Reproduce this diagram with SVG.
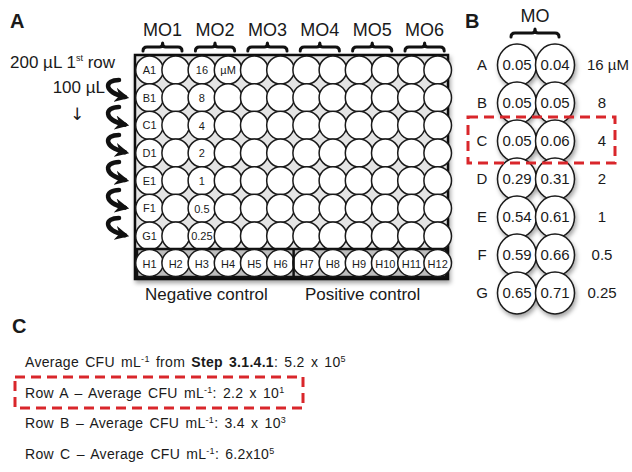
<svg xmlns="http://www.w3.org/2000/svg" width="632" height="472" viewBox="0 0 632 472">
<defs>
<style>
text{font-family:"Liberation Sans",Arial,sans-serif;fill:#1a1a1a}
.pl{font-weight:bold;font-size:20px}
.mo{font-size:18px}
.lbl{font-size:17px}
.w{fill:#fff;stroke:#1a1a1a;stroke-width:1.5}
.wl{font-size:11px;text-anchor:middle}
.wb{fill:#fff;stroke:#1a1a1a;stroke-width:1.5}
.bt{font-size:15px;text-anchor:middle}
.ct{font-size:14px;word-spacing:2px;letter-spacing:0.3px}
.br{fill:none;stroke:#111;stroke-width:3;stroke-linecap:round;stroke-linejoin:round}
.red{fill:none;stroke:#d9262b;stroke-width:3;stroke-dasharray:10 6}
.arr{fill:none;stroke:#111;stroke-width:4.5;stroke-linecap:round}
.sup{font-size:9px}
</style>
<filter id="sh" x="-10%" y="-10%" width="130%" height="130%">
<feDropShadow dx="1.5" dy="3" stdDeviation="2" flood-color="#000" flood-opacity="0.35"/>
</filter>
<marker id="ah" viewBox="0 0 10 10" refX="7" refY="5" markerWidth="3.2" markerHeight="3.2" orient="auto">
<path d="M0,0 L10,5 L0,10 L3,5 Z" fill="#111"/>
</marker>
</defs>

<g id="panelA">
<text class="pl" x="10" y="28">A</text>
<text class="lbl" x="10" y="68">200 µL 1<tspan class="sup" dy="-7" font-size="11">st</tspan><tspan dy="7"> row</tspan></text>
<text class="lbl" x="105" y="93" text-anchor="end">100 µL</text>
<text x="77" y="120" text-anchor="middle" style="font-family:'DejaVu Sans',sans-serif;font-size:17px">↓</text>

<g id="brackets">
<text class="mo" x="162.6" y="36" text-anchor="middle">MO1</text>
<text class="mo" x="215" y="36" text-anchor="middle">MO2</text>
<text class="mo" x="267.4" y="36" text-anchor="middle">MO3</text>
<text class="mo" x="319.8" y="36" text-anchor="middle">MO4</text>
<text class="mo" x="372.2" y="36" text-anchor="middle">MO5</text>
<text class="mo" x="424.6" y="36" text-anchor="middle">MO6</text>
<path class="br" d="M143 51 Q143 47 147 47 L159.6 47 Q162.6 47 162.6 43 Q162.6 47 165.6 47 L178 47 Q182 47 182 51"/>
<path class="br" d="M195.4 51 Q195.4 47 199.4 47 L212 47 Q215 47 215 43 Q215 47 218 47 L230.6 47 Q234.6 47 234.6 51"/>
<path class="br" d="M247.8 51 Q247.8 47 251.8 47 L264.4 47 Q267.4 47 267.4 43 Q267.4 47 270.4 47 L283 47 Q287 47 287 51"/>
<path class="br" d="M300.2 51 Q300.2 47 304.2 47 L316.8 47 Q319.8 47 319.8 43 Q319.8 47 322.8 47 L335.4 47 Q339.4 47 339.4 51"/>
<path class="br" d="M352.6 51 Q352.6 47 356.6 47 L369.2 47 Q372.2 47 372.2 43 Q372.2 47 375.2 47 L387.8 47 Q391.8 47 391.8 51"/>
<path class="br" d="M405 51 Q405 47 409 47 L421.6 47 Q424.6 47 424.6 43 Q424.6 47 427.6 47 L440.2 47 Q444.2 47 444.2 51"/>
</g>

<g id="plate">
<rect x="135" y="55" width="313" height="224" fill="#e4e4e4" stroke="#111" stroke-width="2.5" filter="url(#sh)"/>
<g id="wells">
<g id="rowA"><ellipse class="w" cx="149.5" cy="70" rx="13.8" ry="14"/><ellipse class="w" cx="175.7" cy="70" rx="13.8" ry="14"/><ellipse class="w" cx="201.9" cy="70" rx="13.8" ry="14"/><ellipse class="w" cx="228.1" cy="70" rx="13.8" ry="14"/><ellipse class="w" cx="254.3" cy="70" rx="13.8" ry="14"/><ellipse class="w" cx="280.5" cy="70" rx="13.8" ry="14"/><ellipse class="w" cx="306.7" cy="70" rx="13.8" ry="14"/><ellipse class="w" cx="332.9" cy="70" rx="13.8" ry="14"/><ellipse class="w" cx="359.1" cy="70" rx="13.8" ry="14"/><ellipse class="w" cx="385.3" cy="70" rx="13.8" ry="14"/><ellipse class="w" cx="411.5" cy="70" rx="13.8" ry="14"/><ellipse class="w" cx="437.7" cy="70" rx="13.8" ry="14"/></g>
<g id="rowB"><ellipse class="w" cx="149.5" cy="97.7" rx="13.8" ry="14"/><ellipse class="w" cx="175.7" cy="97.7" rx="13.8" ry="14"/><ellipse class="w" cx="201.9" cy="97.7" rx="13.8" ry="14"/><ellipse class="w" cx="228.1" cy="97.7" rx="13.8" ry="14"/><ellipse class="w" cx="254.3" cy="97.7" rx="13.8" ry="14"/><ellipse class="w" cx="280.5" cy="97.7" rx="13.8" ry="14"/><ellipse class="w" cx="306.7" cy="97.7" rx="13.8" ry="14"/><ellipse class="w" cx="332.9" cy="97.7" rx="13.8" ry="14"/><ellipse class="w" cx="359.1" cy="97.7" rx="13.8" ry="14"/><ellipse class="w" cx="385.3" cy="97.7" rx="13.8" ry="14"/><ellipse class="w" cx="411.5" cy="97.7" rx="13.8" ry="14"/><ellipse class="w" cx="437.7" cy="97.7" rx="13.8" ry="14"/></g>
<g id="rowC"><ellipse class="w" cx="149.5" cy="125.3" rx="13.8" ry="14"/><ellipse class="w" cx="175.7" cy="125.3" rx="13.8" ry="14"/><ellipse class="w" cx="201.9" cy="125.3" rx="13.8" ry="14"/><ellipse class="w" cx="228.1" cy="125.3" rx="13.8" ry="14"/><ellipse class="w" cx="254.3" cy="125.3" rx="13.8" ry="14"/><ellipse class="w" cx="280.5" cy="125.3" rx="13.8" ry="14"/><ellipse class="w" cx="306.7" cy="125.3" rx="13.8" ry="14"/><ellipse class="w" cx="332.9" cy="125.3" rx="13.8" ry="14"/><ellipse class="w" cx="359.1" cy="125.3" rx="13.8" ry="14"/><ellipse class="w" cx="385.3" cy="125.3" rx="13.8" ry="14"/><ellipse class="w" cx="411.5" cy="125.3" rx="13.8" ry="14"/><ellipse class="w" cx="437.7" cy="125.3" rx="13.8" ry="14"/></g>
<g id="rowD"><ellipse class="w" cx="149.5" cy="153" rx="13.8" ry="14"/><ellipse class="w" cx="175.7" cy="153" rx="13.8" ry="14"/><ellipse class="w" cx="201.9" cy="153" rx="13.8" ry="14"/><ellipse class="w" cx="228.1" cy="153" rx="13.8" ry="14"/><ellipse class="w" cx="254.3" cy="153" rx="13.8" ry="14"/><ellipse class="w" cx="280.5" cy="153" rx="13.8" ry="14"/><ellipse class="w" cx="306.7" cy="153" rx="13.8" ry="14"/><ellipse class="w" cx="332.9" cy="153" rx="13.8" ry="14"/><ellipse class="w" cx="359.1" cy="153" rx="13.8" ry="14"/><ellipse class="w" cx="385.3" cy="153" rx="13.8" ry="14"/><ellipse class="w" cx="411.5" cy="153" rx="13.8" ry="14"/><ellipse class="w" cx="437.7" cy="153" rx="13.8" ry="14"/></g>
<g id="rowE"><ellipse class="w" cx="149.5" cy="180.7" rx="13.8" ry="14"/><ellipse class="w" cx="175.7" cy="180.7" rx="13.8" ry="14"/><ellipse class="w" cx="201.9" cy="180.7" rx="13.8" ry="14"/><ellipse class="w" cx="228.1" cy="180.7" rx="13.8" ry="14"/><ellipse class="w" cx="254.3" cy="180.7" rx="13.8" ry="14"/><ellipse class="w" cx="280.5" cy="180.7" rx="13.8" ry="14"/><ellipse class="w" cx="306.7" cy="180.7" rx="13.8" ry="14"/><ellipse class="w" cx="332.9" cy="180.7" rx="13.8" ry="14"/><ellipse class="w" cx="359.1" cy="180.7" rx="13.8" ry="14"/><ellipse class="w" cx="385.3" cy="180.7" rx="13.8" ry="14"/><ellipse class="w" cx="411.5" cy="180.7" rx="13.8" ry="14"/><ellipse class="w" cx="437.7" cy="180.7" rx="13.8" ry="14"/></g>
<g id="rowF"><ellipse class="w" cx="149.5" cy="208.3" rx="13.8" ry="14"/><ellipse class="w" cx="175.7" cy="208.3" rx="13.8" ry="14"/><ellipse class="w" cx="201.9" cy="208.3" rx="13.8" ry="14"/><ellipse class="w" cx="228.1" cy="208.3" rx="13.8" ry="14"/><ellipse class="w" cx="254.3" cy="208.3" rx="13.8" ry="14"/><ellipse class="w" cx="280.5" cy="208.3" rx="13.8" ry="14"/><ellipse class="w" cx="306.7" cy="208.3" rx="13.8" ry="14"/><ellipse class="w" cx="332.9" cy="208.3" rx="13.8" ry="14"/><ellipse class="w" cx="359.1" cy="208.3" rx="13.8" ry="14"/><ellipse class="w" cx="385.3" cy="208.3" rx="13.8" ry="14"/><ellipse class="w" cx="411.5" cy="208.3" rx="13.8" ry="14"/><ellipse class="w" cx="437.7" cy="208.3" rx="13.8" ry="14"/></g>
<g id="rowG"><ellipse class="w" cx="149.5" cy="236" rx="13.8" ry="14"/><ellipse class="w" cx="175.7" cy="236" rx="13.8" ry="14"/><ellipse class="w" cx="201.9" cy="236" rx="13.8" ry="14"/><ellipse class="w" cx="228.1" cy="236" rx="13.8" ry="14"/><ellipse class="w" cx="254.3" cy="236" rx="13.8" ry="14"/><ellipse class="w" cx="280.5" cy="236" rx="13.8" ry="14"/><ellipse class="w" cx="306.7" cy="236" rx="13.8" ry="14"/><ellipse class="w" cx="332.9" cy="236" rx="13.8" ry="14"/><ellipse class="w" cx="359.1" cy="236" rx="13.8" ry="14"/><ellipse class="w" cx="385.3" cy="236" rx="13.8" ry="14"/><ellipse class="w" cx="411.5" cy="236" rx="13.8" ry="14"/><ellipse class="w" cx="437.7" cy="236" rx="13.8" ry="14"/></g>
</g>
<g id="rowH">
<rect x="137" y="249" width="309" height="28" fill="#bdbdbd" stroke="#111" stroke-width="2.5"/>
<ellipse class="w" cx="149.5" cy="263" rx="13.8" ry="13.5"/><ellipse class="w" cx="175.7" cy="263" rx="13.8" ry="13.5"/><ellipse class="w" cx="201.9" cy="263" rx="13.8" ry="13.5"/><ellipse class="w" cx="228.1" cy="263" rx="13.8" ry="13.5"/><ellipse class="w" cx="254.3" cy="263" rx="13.8" ry="13.5"/><ellipse class="w" cx="280.5" cy="263" rx="13.8" ry="13.5"/><ellipse class="w" cx="306.7" cy="263" rx="13.8" ry="13.5"/><ellipse class="w" cx="332.9" cy="263" rx="13.8" ry="13.5"/><ellipse class="w" cx="359.1" cy="263" rx="13.8" ry="13.5"/><ellipse class="w" cx="385.3" cy="263" rx="13.8" ry="13.5"/><ellipse class="w" cx="411.5" cy="263" rx="13.8" ry="13.5"/><ellipse class="w" cx="437.7" cy="263" rx="13.8" ry="13.5"/>
<line x1="293.6" y1="249" x2="293.6" y2="277" stroke="#111" stroke-width="2.5"/>
<g class="wl" font-size="12">
<text x="149.5" y="267.5">H1</text><text x="175.7" y="267.5">H2</text><text x="201.9" y="267.5">H3</text><text x="228.1" y="267.5">H4</text><text x="254.3" y="267.5">H5</text><text x="280.5" y="267.5">H6</text><text x="306.7" y="267.5">H7</text><text x="332.9" y="267.5">H8</text><text x="359.1" y="267.5">H9</text><text x="385.3" y="267.5">H10</text><text x="411.5" y="267.5">H11</text><text x="437.7" y="267.5">H12</text>
</g>
</g>
<g id="wellLabels">
<text class="wl" x="149.5" y="74">A1</text>
<text class="wl" x="149.5" y="101.7">B1</text>
<text class="wl" x="149.5" y="129.3">C1</text>
<text class="wl" x="149.5" y="157">D1</text>
<text class="wl" x="149.5" y="184.7">E1</text>
<text class="wl" x="149.5" y="212.3">F1</text>
<text class="wl" x="149.5" y="240">G1</text>
<text class="wl" x="201.9" y="74" font-size="12">16</text>
<text class="wl" x="228.1" y="74" font-size="11">µM</text>
<text class="wl" x="201.9" y="102" font-size="12">8</text>
<text class="wl" x="201.9" y="129.6" font-size="12">4</text>
<text class="wl" x="201.9" y="157.3" font-size="12">2</text>
<text class="wl" x="201.9" y="185" font-size="12">1</text>
<text class="wl" x="201.9" y="212.6" font-size="12">0.5</text>
<text class="wl" x="201.9" y="240" font-size="11">0.25</text>
</g>
</g>

<g id="connectors">
<path class="arr" d="M119 80 C104 80 103 92 125 97" marker-end="url(#ah)"/>
<path class="arr" d="M119 107 C104 107 103 120 125 124.6" marker-end="url(#ah)"/>
<path class="arr" d="M119 135 C104 135 103 147 125 152.3" marker-end="url(#ah)"/>
<path class="arr" d="M119 162 C104 162 103 175 125 180" marker-end="url(#ah)"/>
<path class="arr" d="M119 190 C104 190 103 203 125 207.6" marker-end="url(#ah)"/>
<path class="arr" d="M119 218 C104 218 103 230 125 235.3" marker-end="url(#ah)"/>
</g>

<text class="lbl" x="145" y="300">Negative control</text>
<text class="lbl" x="305" y="300">Positive control</text>
</g>

<g id="panelB">
<text class="pl" x="465" y="28">B</text>
<text class="mo" x="535" y="22" text-anchor="middle">MO</text>
<path class="br" d="M511 37 Q511 33 515 33 L532 33 Q535 33 535 29 Q535 33 538 33 L555 33 Q559 33 559 37"/>
<g filter="url(#sh)">
<ellipse class="wb" cx="517" cy="65" rx="19.5" ry="21"/><ellipse class="wb" cx="555" cy="65" rx="19.5" ry="21"/>
<ellipse class="wb" cx="517" cy="103" rx="19.5" ry="21"/><ellipse class="wb" cx="555" cy="103" rx="19.5" ry="21"/>
<ellipse class="wb" cx="517" cy="141" rx="19.5" ry="21"/><ellipse class="wb" cx="555" cy="141" rx="19.5" ry="21"/>
<ellipse class="wb" cx="517" cy="179" rx="19.5" ry="21"/><ellipse class="wb" cx="555" cy="179" rx="19.5" ry="21"/>
<ellipse class="wb" cx="517" cy="217" rx="19.5" ry="21"/><ellipse class="wb" cx="555" cy="217" rx="19.5" ry="21"/>
<ellipse class="wb" cx="517" cy="255" rx="19.5" ry="21"/><ellipse class="wb" cx="555" cy="255" rx="19.5" ry="21"/>
<ellipse class="wb" cx="517" cy="293" rx="19.5" ry="21"/><ellipse class="wb" cx="555" cy="293" rx="19.5" ry="21"/>
</g>
<g class="bt">
<text x="482" y="70">A</text><text x="517" y="70">0.05</text><text x="555" y="70">0.04</text><text x="587" y="70" text-anchor="start">16 µM</text>
<text x="482" y="108">B</text><text x="517" y="108">0.05</text><text x="555" y="108">0.05</text><text x="602" y="108">8</text>
<text x="482" y="146">C</text><text x="517" y="146">0.05</text><text x="555" y="146">0.06</text><text x="602" y="146">4</text>
<text x="482" y="184">D</text><text x="517" y="184">0.29</text><text x="555" y="184">0.31</text><text x="602" y="184">2</text>
<text x="482" y="222">E</text><text x="517" y="222">0.54</text><text x="555" y="222">0.61</text><text x="602" y="222">1</text>
<text x="482" y="260">F</text><text x="517" y="260">0.59</text><text x="555" y="260">0.66</text><text x="602" y="260">0.5</text>
<text x="482" y="298">G</text><text x="517" y="298">0.65</text><text x="555" y="298">0.71</text><text x="602" y="298">0.25</text>
</g>
<rect class="red" x="468" y="117" width="147" height="46"/>
</g>

<g id="panelC">
<text class="pl" x="12" y="333">C</text>
<text class="ct" x="25" y="367">Average CFU mL<tspan class="sup" dy="-5">-1</tspan><tspan dy="5"> from </tspan><tspan font-weight="bold">Step 3.1.4.1</tspan>: 5.2 x 10<tspan class="sup" dy="-5">5</tspan></text>
<text class="ct" x="25" y="398">Row A – Average CFU mL<tspan class="sup" dy="-5">-1</tspan><tspan dy="5">: 2.2 x 10</tspan><tspan class="sup" dy="-5">1</tspan></text>
<text class="ct" x="25" y="428">Row B – Average CFU mL<tspan class="sup" dy="-5">-1</tspan><tspan dy="5">: 3.4 x 10</tspan><tspan class="sup" dy="-5">3</tspan></text>
<text class="ct" x="25" y="459">Row C – Average CFU mL<tspan class="sup" dy="-5">-1</tspan><tspan dy="5">: 6.2x10</tspan><tspan class="sup" dy="-5">5</tspan></text>
<rect class="red" x="15" y="377" width="288" height="31"/>
</g>
</svg>
